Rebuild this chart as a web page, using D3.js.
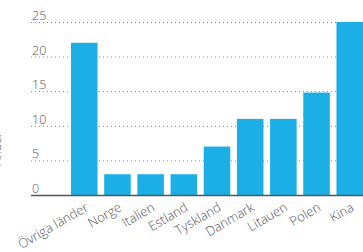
<!DOCTYPE html>
<html>
<head>
<meta charset="utf-8">
<script src="https://cdn.jsdelivr.net/npm/d3@7"></script>
<style>
  body { margin: 0; background: #fff; }
  text { font-family: "Open Sans", sans-serif; font-weight: 300; fill: #555; }
</style>
</head>
<body>
<div id="chart"></div>
<script>
var countries = ["Övriga länder", "Norge", "Italien", "Estland", "Tyskland", "Danmark", "Litauen", "Polen", "Kina"];
var values = [22, 3, 3, 3, 7, 11, 11, 14.8, 25];
var yTicks = [0, 5, 10, 15, 20, 25];

var svg = d3.select("#chart")
  .append("svg")
  .attr("width", 363)
  .attr("height", 252);

var width = +svg.attr("width"),
    height = +svg.attr("height"),
    margin = {top: 22, right: 0, bottom: 57, left: 71};

var x = d3.scaleBand()
    .domain(countries)
    .range([margin.left, width - margin.right])
    .paddingInner(0.2)
    .paddingOuter(0);

var y = d3.scaleLinear()
    .domain([0, 25])
    .range([height - margin.bottom, margin.top]);

// dotted grid lines with labels sitting on them
var grid = svg.append("g")
    .attr("class", "grid");

grid.selectAll("line")
  .data(yTicks.filter(function(d) { return d > 0; }))
  .enter().append("line")
    .attr("x1", 31)
    .attr("x2", width)
    .attr("y1", function(d) { return y(d) + 0.5; })
    .attr("y2", function(d) { return y(d) + 0.5; })
    .attr("stroke", "#888")
    .attr("stroke-width", 1)
    .attr("stroke-dasharray", "1,3");

grid.selectAll("text")
  .data(yTicks)
  .enter().append("text")
    .attr("x", 32)
    .attr("y", function(d) { return y(d) - 2; })
    .attr("font-size", 12.5)
    .text(function(d) { return d; });

// axis title, almost entirely outside the left edge as in the source
svg.append("text")
    .attr("transform", "translate(1,150) rotate(-90)")
    .attr("text-anchor", "middle")
    .attr("font-size", 12)
    .text("Andel");

svg.append("g")
    .attr("fill", "#1bafe6")
  .selectAll("rect")
  .data(values)
  .enter().append("rect")
    .attr("x", function(d, i) { return x(countries[i]); })
    .attr("y", function(d) { return y(d); })
    .attr("width", x.bandwidth())
    .attr("height", function(d) { return y(0) - y(d); });

// baseline
svg.append("line")
    .attr("x1", 31)
    .attr("x2", width)
    .attr("y1", y(0) + 0.5)
    .attr("y2", y(0) + 0.5)
    .attr("stroke", "#555")
    .attr("stroke-width", 1.5);

svg.append("g")
  .selectAll("text")
  .data(countries)
  .enter().append("text")
    .attr("text-anchor", "end")
    .attr("font-size", 13)
    .attr("transform", function(d) {
      return "translate(" + (x(d) + x.bandwidth() / 2 + 5) + "," + (y(0) + 15) + ") rotate(-30)";
    })
    .text(function(d) { return d; });
</script>
</body>
</html>
